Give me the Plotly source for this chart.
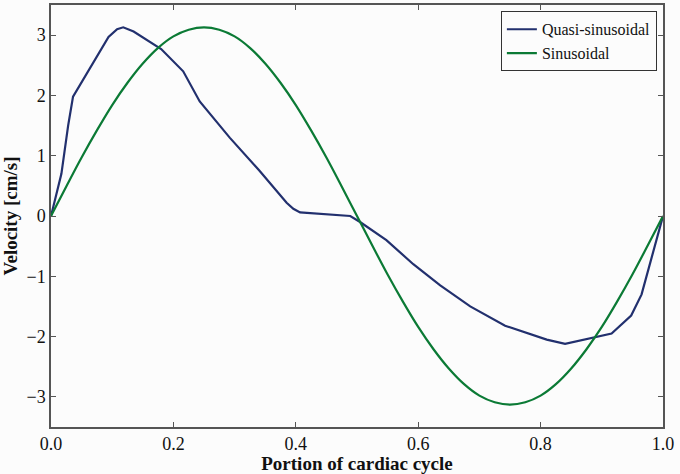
import plotly.graph_objects as go

# Quasi-sinusoidal profile
quasi_x = [0, 0.017, 0.028, 0.036, 0.094, 0.108, 0.118, 0.135, 0.18, 0.216, 0.243,
           0.292, 0.34, 0.385, 0.396, 0.407, 0.489, 0.505, 0.548, 0.592, 0.636,
           0.685, 0.742, 0.81, 0.84, 0.916, 0.948, 0.965, 1.0]
quasi_y = [0, 0.7, 1.5, 1.98, 2.97, 3.1, 3.13, 3.06, 2.77, 2.4, 1.9,
           1.3, 0.76, 0.22, 0.12, 0.06, 0.0, -0.1, -0.4, -0.8, -1.15,
           -1.5, -1.82, -2.05, -2.12, -1.95, -1.65, -1.3, 0.0]

# Sinusoidal profile
sin_x = [0, 0.025, 0.05, 0.075, 0.1, 0.125, 0.15, 0.175, 0.2, 0.225, 0.25,
         0.275, 0.3, 0.325, 0.35, 0.375, 0.4, 0.425, 0.45, 0.475, 0.5,
         0.525, 0.55, 0.575, 0.6, 0.625, 0.65, 0.675, 0.7, 0.725, 0.75,
         0.775, 0.8, 0.825, 0.85, 0.875, 0.9, 0.925, 0.95, 0.975, 1.0]
sin_y = [0, 0.49, 0.97, 1.42, 1.84, 2.21, 2.53, 2.79, 2.98, 3.09, 3.13,
         3.09, 2.98, 2.79, 2.53, 2.21, 1.84, 1.42, 0.97, 0.49, 0,
         -0.49, -0.97, -1.42, -1.84, -2.21, -2.53, -2.79, -2.98, -3.09, -3.13,
         -3.09, -2.98, -2.79, -2.53, -2.21, -1.84, -1.42, -0.97, -0.49, 0]

x_ticks = [0.0, 0.2, 0.4, 0.6, 0.8, 1.0]
y_ticks = [-3, -2, -1, 0, 1, 2, 3]

font_family = "Liberation Serif, Times New Roman, serif"

fig = go.Figure()
fig.add_trace(go.Scatter(x=quasi_x, y=quasi_y, mode="lines", name="Quasi-sinusoidal",
                         line=dict(color="#22306e", width=2.2)))
fig.add_trace(go.Scatter(x=sin_x, y=sin_y, mode="lines", name="Sinusoidal",
                         line=dict(color="#0b7a35", width=2.2, shape="spline", smoothing=1)))

axis_common = dict(showgrid=False, zeroline=False, showline=True, linecolor="#555555",
                   linewidth=1.5, mirror="ticks", ticks="inside", ticklen=5,
                   tickcolor="#555555", tickfont=dict(family=font_family, size=18, color="#111"))

fig.update_xaxes(range=[0, 1], tickvals=x_ticks, tickformat=".1f",
                 title=dict(text="<b>Portion of cardiac cycle</b>",
                            font=dict(family=font_family, size=19, color="#111"), standoff=4),
                 **axis_common)
fig.update_yaxes(range=[-3.5, 3.5], tickvals=y_ticks,
                 title=dict(text="<b>Velocity [cm/s]</b>",
                            font=dict(family=font_family, size=19, color="#111"), standoff=9),
                 **axis_common)

fig.update_layout(
    width=680, height=474,
    margin=dict(l=51, r=17, t=5, b=47, autoexpand=False),
    paper_bgcolor="#fcfcfc", plot_bgcolor="#fcfcfc",
    legend=dict(x=0.99, y=0.985, xanchor="right", yanchor="top",
                bgcolor="#fcfcfc", bordercolor="#333", borderwidth=1,
                font=dict(family=font_family, size=16, color="#111"),
                tracegroupgap=0, itemwidth=30),
    showlegend=True,
)

fig.write_html("out.html", config={"displayModeBar": False},
               post_script="document.body.style.margin='0';")
